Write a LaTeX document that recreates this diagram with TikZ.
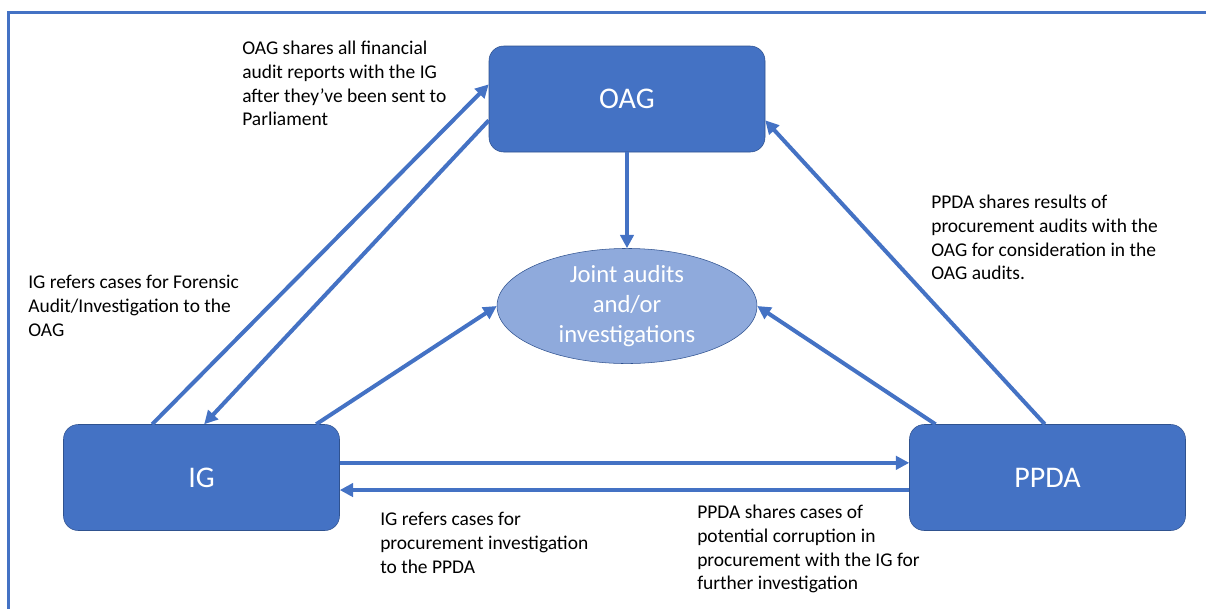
\documentclass[tikz,border=0pt]{standalone}
\usepackage{fontspec}
\setmainfont{Carlito}
\usetikzlibrary{arrows.meta,shapes.geometric}
\definecolor{boxblue}{HTML}{4472C4}
\definecolor{edgeblue}{HTML}{2F528F}
\definecolor{lightblue}{HTML}{8FAADC}
\begin{document}
\begin{tikzpicture}[x=0.75pt,y=-0.75pt,
    agency/.style={draw=edgeblue,fill=boxblue,rounded corners=11pt,minimum width=207pt,minimum height=79.5pt,text=white,font=\fontsize{22.5}{26}\selectfont},
    joint/.style={ellipse,draw=edgeblue,fill=lightblue,minimum width=195pt,minimum height=78pt,inner sep=0pt,text=white,align=center,font=\fontsize{18.5}{22.5}\selectfont},
    note/.style={anchor=north west,inner sep=0pt,align=left,font=\fontsize{14.6}{17.8}\selectfont},
    flow/.style={draw=boxblue,line width=3pt,-{Triangle[length=10pt,width=10pt]}}]
    \useasboundingbox (0,0) rectangle (1206,608);
    \draw[boxblue,line width=2.25pt] (8,612) -- (8,12) -- (1210,12);
    % agencies
    \node[agency] (oag) at (627,99) {OAG};
    \node[agency] (ig) at (201.5,477.5) {IG};
    \node[agency] (ppda) at (1047.5,477.5) {PPDA};
    \node[joint] (jnt) at (627,306) {Joint audits\\and/or\\investigations};
    % flows
    \draw[flow] (oag.south) -- (jnt.north);
    \draw[flow] ([xshift=-37pt]ig.north) -- ([yshift=11pt]oag.west);
    \draw[flow] ([yshift=-16pt]oag.west) -- ([xshift=2pt]ig.north);
    \draw[flow] ([xshift=86pt]ig.north) -- (jnt.west);
    \draw[flow] ([xshift=-84pt]ppda.north) -- (jnt.east);
    \draw[flow] ([xshift=-2pt]ppda.north) -- ([yshift=-16pt]oag.east);
    \draw[flow] ([yshift=11pt]ig.east) -- ([yshift=11pt]ppda.west);
    \draw[flow] ([yshift=-9.4pt]ppda.west) -- ([yshift=-9.4pt]ig.east);
    % notes
    \node[note] (n1) at (242,41) {OAG shares all financial\\audit reports with the IG\\after they’ve been sent to\\Parliament};
    \node[note] (n2) at (28,275) {IG refers cases for Forensic\\Audit/Investigation to the\\OAG};
    \node[note] (n3) at (931,195) {PPDA shares results of\\procurement audits with the\\OAG for consideration in the\\OAG audits.};
    \node[note] (n4) at (380,512) {IG refers cases for\\procurement investigation\\to the PPDA};
    \node[note] (n5) at (697,505) {PPDA shares cases of\\potential corruption in\\procurement with the IG for\\further investigation};
\end{tikzpicture}
\end{document}
